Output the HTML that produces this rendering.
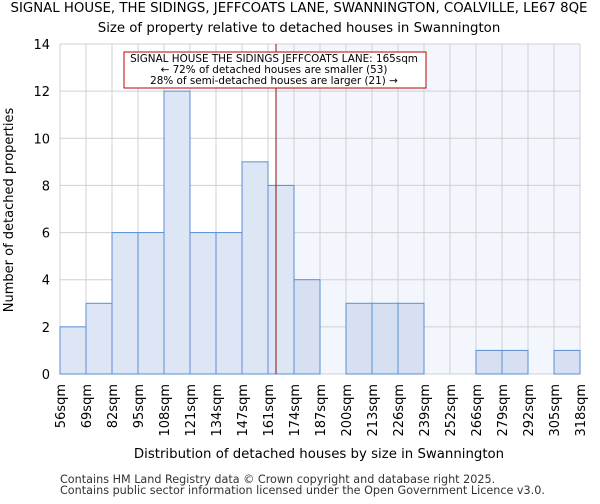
<!DOCTYPE html>
<html><head><meta charset="utf-8"><style>
body{margin:0;background:#fff;font-family:"DejaVu Sans","Liberation Sans",sans-serif}
</style></head><body>
<svg width="600" height="500" xmlns="http://www.w3.org/2000/svg" font-family="DejaVu Sans, Liberation Sans, sans-serif">
<text x="299" y="12" font-size="13.3" text-anchor="middle">SIGNAL HOUSE, THE SIDINGS, JEFFCOATS LANE, SWANNINGTON, COALVILLE, LE67 8QE</text>
<text x="299" y="32" font-size="13.3" text-anchor="middle">Size of property relative to detached houses in Swannington</text>
<g id="plot"></g>
<text x="319" y="458" font-size="13.3" text-anchor="middle">Distribution of detached houses by size in Swannington</text>
<text transform="translate(13,210) rotate(-90)" font-size="13" text-anchor="middle">Number of detached properties</text>
<text x="60" y="483" font-size="11.2" fill="#333">Contains HM Land Registry data © Crown copyright and database right 2025.</text>
<text x="60" y="494" font-size="11.2" fill="#333">Contains public sector information licensed under the Open Government Licence v3.0.</text>
</svg>
<script>
const binLabels=["56sqm","69sqm","82sqm","95sqm","108sqm","121sqm","134sqm","147sqm","161sqm","174sqm","187sqm","200sqm","213sqm","226sqm","239sqm","252sqm","266sqm","279sqm","292sqm","305sqm","318sqm"];
const binStarts=[56,69,82,95,108,121,134,147,161,174,187,200,213,226,239,252,266,279,292,305,318];
const counts=[2,3,6,6,12,6,6,9,8,4,0,3,3,3,0,0,1,1,0,1];
const yTicks=[0,2,4,6,8,10,12,14];
const markerValue=165;
const NS="http://www.w3.org/2000/svg";
const L=60,R=580,T=44,B=374,yMax=14;
const n=counts.length,bw=(R-L)/n;
const xi=i=>L+i*bw;
const y=v=>B-(v/yMax)*(B-T);
function xv(v){let i=0;while(i<binStarts.length-2&&v>=binStarts[i+1])i++;return xi(i)+(v-binStarts[i])/(binStarts[i+1]-binStarts[i])*bw;}
const g=document.getElementById('plot');
function mk(t,a){const e=document.createElementNS(NS,t);for(const k in a)e.setAttribute(k,a[k]);g.appendChild(e);return e;}
const mx=xv(markerValue);
let e=mk('rect',{x:mx,y:T,width:R-mx,height:B-T,fill:'#f3f6fc'});


for(let i=0;i<=n;i++){e=mk('line',{x1:xi(i),x2:xi(i),y1:T,y2:B,stroke:'#d0d0d0','stroke-width':1});

}
yTicks.forEach(t=>{e=mk('line',{x1:L,x2:R,y1:y(t),y2:y(t),stroke:'#d0d0d0','stroke-width':1});


e=mk('text',{x:L-10,y:y(t)+5,'font-size':13,'text-anchor':'end'});e.textContent=t;

});
counts.forEach((c,i)=>{if(c<=0)return;e=mk('rect',{x:xi(i),y:y(c),width:bw,height:B-y(c),fill:mx<=xi(i)?'#d6e0f2':'#dde6f4',stroke:'#5b8fd6','stroke-width':1});

});
binLabels.forEach((l,i)=>{e=mk('text',{transform:`translate(${xi(i)+5},384) rotate(-90)`,'font-size':13,'text-anchor':'end'});e.textContent=l;

});
e=mk('line',{x1:mx,x2:mx,y1:T,y2:B,stroke:'#8b1010','stroke-width':1});


e=mk('rect',{x:124,y:52,width:302,height:36,fill:'#fff',stroke:'#c00000','stroke-width':1});


["SIGNAL HOUSE THE SIDINGS JEFFCOATS LANE: 165sqm","← 72% of detached houses are smaller (53)","28% of semi-detached houses are larger (21) →"].forEach((s,i)=>{e=mk('text',{x:274,y:62+i*11,'font-size':10.4,'text-anchor':'middle'});e.textContent=s;

});
</script>
</body></html>
